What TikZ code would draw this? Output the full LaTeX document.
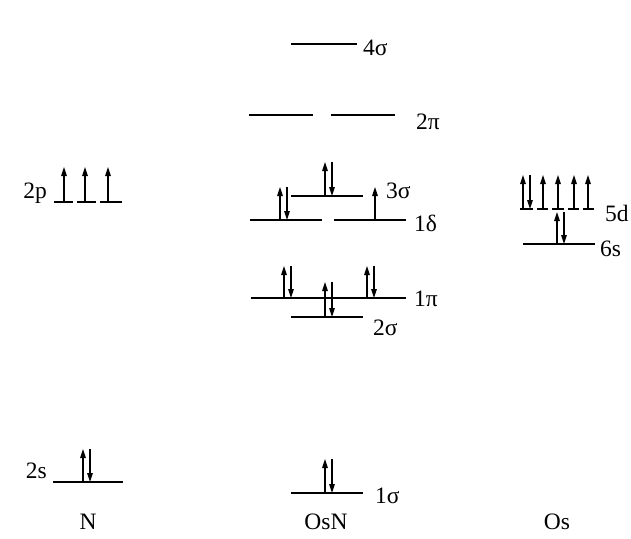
\documentclass[tikz,border=0pt]{standalone}
\usepackage{fontspec}
\setmainfont{Liberation Serif}
\usetikzlibrary{arrows.meta}
\tikzset{
    % energy levels and electrons
    level/.style={
        line width=1.3pt,
        black
    },
    spin/.style={
        -{Triangle[length=9pt,width=5.5pt]},
        line width=1.3pt,
        black
    },
    mo label/.style={
        anchor=base west,
        inner sep=0pt,
        font=\fontsize{23.5}{26}\selectfont
    },
    ao label/.style={
        mo label,
        anchor=base east
    },
    atom label/.style={
        anchor=base,
        inner sep=0pt,
        font=\fontsize{23.5}{26}\selectfont
    }
}
% electron pair: x, level y, tip y
\newcommand{\elpair}[3]{
    \draw[spin] (#1,#2) -- (#1,#3);
    \draw[spin] (#1+7,#3) -- (#1+7,#2);
}
% single electron: x, level y, tip y
\newcommand{\elup}[3]{
    \draw[spin] (#1,#2) -- (#1,#3);
}

\begin{document}
\begin{tikzpicture}[x=1pt, y=-1pt]
        \useasboundingbox (0,0) rectangle (631,538);

        % N
        \draw[level] (54,202) -- (73,202);
        \draw[level] (77,202) -- (96,202);
        \draw[level] (100,202) -- (122,202);
        \elup{64}{202}{167}
        \elup{85}{202}{167}
        \elup{108}{202}{167}
        \node[ao label] (n2p) at (47,198) {2p};

        \draw[level] (53,482) -- (123,482);
        \elpair{83}{482}{449}
        \node[ao label] (n2s) at (47,478) {2s};

        % OsN
        \draw[level] (291,44) -- (357,44);
        \node[mo label] (s4) at (363,55) {4σ};

        \draw[level] (249,115) -- (313,115);
        \draw[level] (331,115) -- (395,115);
        \node[mo label] (p2) at (416,129) {2π};

        \draw[level] (291,196) -- (363,196);
        \elpair{325}{196}{162}
        \elup{375}{220}{187}
        \node[mo label] (s3) at (386,198) {3σ};

        \draw[level] (250,220) -- (322,220);
        \draw[level] (334,220) -- (406,220);
        \elpair{280}{220}{187}
        \node[mo label] (d1) at (414,231) {1δ};

        \draw[level] (251,298) -- (406,298);
        \elpair{284}{298}{266}
        \elpair{367}{298}{266}
        \node[mo label] (p1) at (414,306) {1π};

        \draw[level] (291,317) -- (363,317);
        \elpair{325}{317}{282}
        \node[mo label] (s2) at (373,335) {2σ};

        \draw[level] (291,493) -- (363,493);
        \elpair{325}{493}{459}
        \node[mo label] (s1) at (375,503) {1σ};

        % Os
        \draw[level] (520,209) -- (533,209);
        \draw[level] (537,209) -- (548,209);
        \draw[level] (552,209) -- (564,209);
        \draw[level] (568,209) -- (579,209);
        \draw[level] (583,209) -- (594,209);
        \elpair{523}{209}{175}
        \elup{543}{209}{175}
        \elup{558}{209}{175}
        \elup{574}{209}{175}
        \elup{588}{209}{175}
        \node[mo label] (d5) at (605,221) {5d};

        \draw[level] (523,244) -- (595,244);
        \elpair{557}{244}{212}
        \node[mo label] (s6) at (600,256) {6s};

        % atoms
        \node[atom label] (atomN) at (88,529) {N};
        \node[atom label] (atomOsN) at (326,529) {OsN};
        \node[atom label] (atomOs) at (557,529) {Os};
    \end{tikzpicture}
\end{document}
